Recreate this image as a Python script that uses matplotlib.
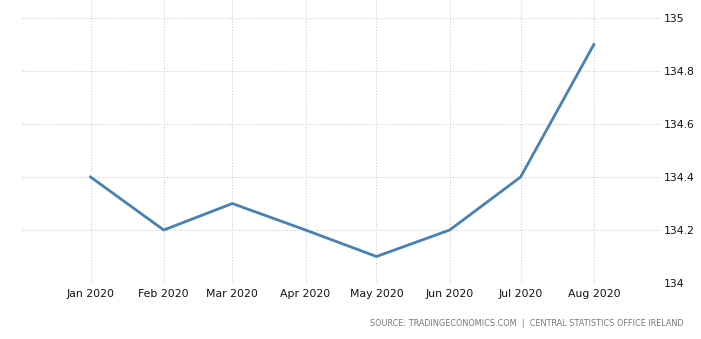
import matplotlib
matplotlib.use("Agg")
from matplotlib import pyplot as plt
import matplotlib.dates as mdates
import numpy as np
import datetime as dt

# data
months = ["2020-01-01", "2020-02-01", "2020-03-01", "2020-04-01",
          "2020-05-01", "2020-06-01", "2020-07-01", "2020-08-01"]
values = [134.4, 134.2, 134.3, 134.2, 134.1, 134.2, 134.4, 134.9]
yticks = [134, 134.2, 134.4, 134.6, 134.8, 135]
ylabels = ["134", "134.2", "134.4", "134.6", "134.8", "135"]
source = "SOURCE: TRADINGECONOMICS.COM  |  CENTRAL STATISTICS OFFICE IRELAND"

dates = [dt.datetime.strptime(m, "%Y-%m-%d") for m in months]

fig = plt.figure(figsize=(7.01, 3.39), dpi=100)
ax = fig.add_axes([22/701, 56/339, 638/701, 283/339])

ax.plot(dates, values, color="#4682b4", lw=2)

ax.set_xlim(dt.datetime(2019, 12, 3), dt.datetime(2020, 8, 29))
ax.set_ylim(134, 135.068)
ax.set_xticks(dates)
ax.xaxis.set_major_formatter(mdates.DateFormatter("%b %Y"))
ax.set_yticks(yticks)
ax.set_yticklabels(ylabels)
ax.yaxis.tick_right()

ax.grid(True, color="#cfcfcf", linestyle=(0, (1, 1.5)), lw=0.8)
for s in ax.spines.values():
    s.set_visible(False)
ax.tick_params(axis="both", length=0, labelsize=7.8, colors="#111111")
ax.tick_params(axis="x", pad=4)
ax.tick_params(axis="y", pad=3)

fig.text(683/701, 1 - 324/339, source, ha="right", va="center",
         fontsize=5.9, color="#777777")

plt.savefig("out.png", dpi=100)
